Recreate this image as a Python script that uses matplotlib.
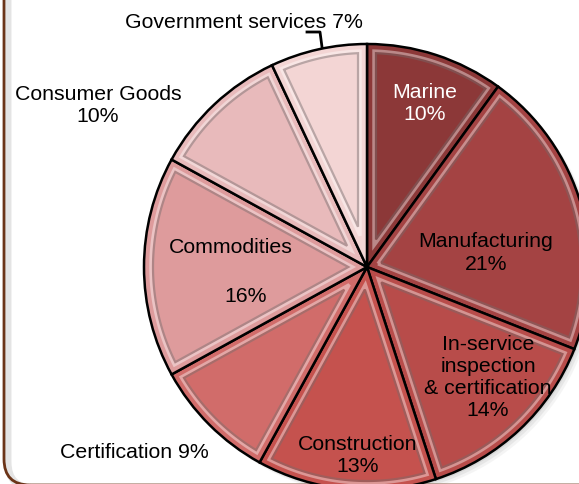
import numpy as np
import matplotlib.pyplot as plt
from matplotlib.patches import Polygon, Circle, FancyBboxPatch

plt.rcParams["font.family"] = ["Liberation Sans", "DejaVu Sans"]

# segments, clockwise from 12 o'clock
sectors = ["Marine", "Manufacturing", "In-service\ninspection\n& certification",
           "Construction", "Certification", "Commodities", "Consumer Goods",
           "Government services"]
shares = [10, 21, 14, 13, 9, 16, 10, 7]
colors = ["#8c3838", "#a44343", "#b84c4a", "#c5524e", "#d16c6a",
          "#de9b9c", "#e8babb", "#f3d5d4"]

W, H = 579, 485
fig = plt.figure(figsize=(W / 100, H / 100), dpi=100)
ax = fig.add_axes([0, 0, 1, 1])

cx, cy, R = 367, H - 268, 223

# soft drop shadow behind the pie
for k, a in [(6, 0.07), (4, 0.1), (2, 0.13)]:
    ax.add_patch(Circle((cx + k, cy - k), R, fc="#707070", ec="none", alpha=a, zorder=1))

wedges, _ = ax.pie(shares, colors=colors, startangle=90, counterclock=False,
                   center=(cx, cy), radius=R, frame=True,
                   wedgeprops=dict(edgecolor="black", linewidth=1.8, zorder=2))
ax.set_xlim(0, W)
ax.set_ylim(0, H)
ax.set_aspect("auto")
ax.axis("off")

# outer frame (rounded, only the left side and bottom corner show)
ax.add_patch(FancyBboxPatch((8, -4), 900, 900, boxstyle="round,pad=0,rounding_size=26",
                            fc="none", ec="#e4e4e4", lw=5, zorder=0))
ax.add_patch(FancyBboxPatch((4, -1), 900, 900, boxstyle="round,pad=0,rounding_size=26",
                            fc="none", ec="#6b3418", lw=2, zorder=1))


def inset_path(t1, t2, inset):
    # polygon of a wedge shrunk inward by `inset` pixels on every side
    a1, a2 = np.radians(t1), np.radians(t2)
    b, h = (a1 + a2) / 2, (a2 - a1) / 2
    s = inset / np.sin(h)
    px, py = cx + s * np.cos(b), cy + s * np.sin(b)
    rr = R - inset

    def hit(a):
        ux, uy = np.cos(a), np.sin(a)
        dx, dy = px - cx, py - cy
        bb = dx * ux + dy * uy
        t = -bb + np.sqrt(bb * bb - (dx * dx + dy * dy - rr * rr))
        return np.arctan2(py + t * uy - cy, px + t * ux - cx)

    e1, e2 = hit(a1), hit(a2)
    if e2 < e1:
        e2 += 2 * np.pi
    arc = np.linspace(e1, e2, 60)
    pts = [(px, py)] + [(cx + rr * np.cos(t), cy + rr * np.sin(t)) for t in arc]
    return np.array(pts)


# bevel lines inside each slice
for w, c in zip(wedges, colors):
    rgb = np.array(plt.matplotlib.colors.to_rgb(c))
    dark = rgb * 0.55 + 0.45 * np.array([0.45, 0.42, 0.42])
    light = np.clip(rgb * 0.6 + 0.4, 0, 1)
    ax.add_patch(Polygon(inset_path(w.theta1, w.theta2, 7), closed=True,
                         fc="none", ec=light, lw=2.5, zorder=3))
    ax.add_patch(Polygon(inset_path(w.theta1, w.theta2, 9), closed=True,
                         fc="none", ec=dark, lw=1.6, zorder=3))


def lab(i):
    return f"{sectors[i]}\n{shares[i]}%"


fs = 15.3
tk = dict(fontsize=fs, ha="center", va="center", linespacing=1.2, zorder=5)
ax.text(425, H - 104, lab(0), color="white", **tk)
ax.text(486, H - 253, lab(1), color="black", **tk)
ax.text(488, H - 378, lab(2), color="black", **tk)
ax.text(358, H - 456, lab(3), color="black", **tk)
ax.text(134, H - 453, f"{sectors[4]} {shares[4]}%", color="black", **tk)
ax.text(231, H - 248, sectors[5], color="black", **tk)
ax.text(246, H - 297, f"{shares[5]}%", color="black", **tk)
ax.text(98, H - 106, lab(6), color="black", **tk)
ax.text(244, H - 22, f"{sectors[7]} {shares[7]}%", color="black", **tk)

# leader for the small top slice
ax.plot([307, 320, 322], [H - 33, H - 33, H - 48], color="black", lw=2, zorder=5)

fig.savefig("out.png", dpi=100)
